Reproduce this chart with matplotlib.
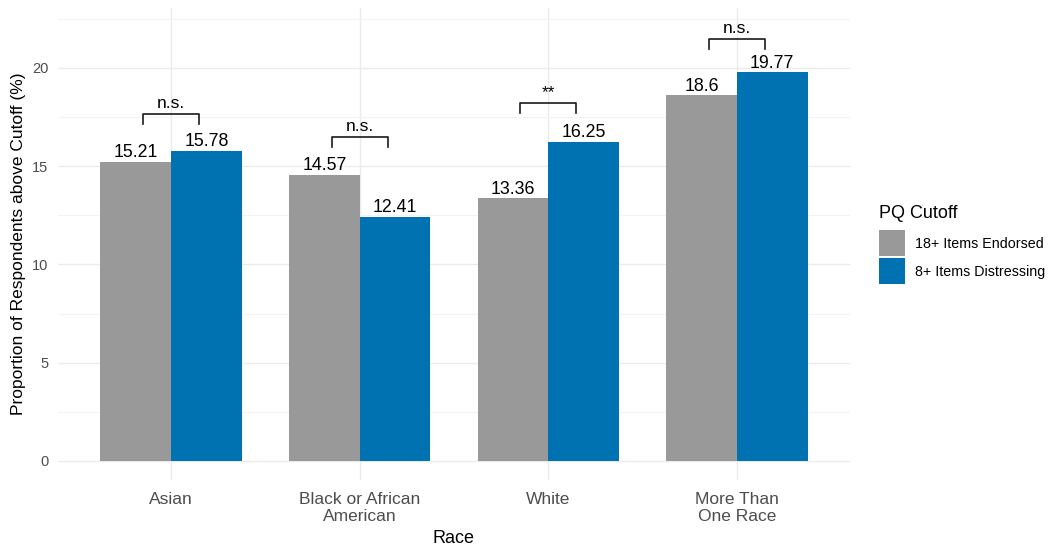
import numpy as np
import matplotlib.pyplot as plt
from matplotlib.patches import Patch

plt.rcParams['font.family'] = ['Liberation Sans', 'DejaVu Sans']

# data
races = ['Asian', 'Black or African\nAmerican', 'White', 'More Than\nOne Race']
endorsed = [15.21, 14.57, 13.36, 18.6]
distressing = [15.78, 12.41, 16.25, 19.77]
sig_labels = ['n.s.', 'n.s.', '**', 'n.s.']
bracket_top = [17.66, 16.49, 18.22, 21.48]
series_names = ['18+ Items Endorsed', '8+ Items Distressing']

GRAY = '#999999'
BLUE = '#0072B2'

fig = plt.figure(figsize=(10.51, 5.53), dpi=100)
ax = fig.add_axes([58 / 1051, 1 - 480 / 553, (850 - 58) / 1051, (480 - 8) / 553])

x = np.arange(1, len(races) + 1)
w = 0.375
ax.bar(x - w / 2, endorsed, width=w, color=GRAY, zorder=2)
ax.bar(x + w / 2, distressing, width=w, color=BLUE, zorder=2)

for xi, a, b in zip(x, endorsed, distressing):
    ax.text(xi - w / 2, a + 0.03, f'{a:g}', ha='center', va='bottom', fontsize=12.8, color='black')
    ax.text(xi + w / 2, b + 0.03, f'{b:g}', ha='center', va='bottom', fontsize=12.8, color='black')

# significance brackets
for xi, top, lab in zip(x, bracket_top, sig_labels):
    x0, x1 = xi - 0.148, xi + 0.148
    ax.plot([x0, x0, x1, x1], [top - 0.5, top, top, top - 0.5], color='#1a1a1a', lw=1.2, zorder=3)
    ax.text(xi, top + 0.15, lab, ha='center', va='bottom', fontsize=12.5, color='black')

ax.set_xlim(0.4, 4.6)
ax.set_ylim(-0.97, 23.05)
ax.set_xticks(x)
ax.set_xticklabels(races, fontsize=12.5, color='#4d4d4d', linespacing=1.15)
ax.set_yticks([0, 5, 10, 15, 20])
ax.set_yticks([2.5, 7.5, 12.5, 17.5, 22.5], minor=True)
ax.tick_params(axis='y', labelsize=10.5, labelcolor='#4d4d4d')
ax.tick_params(which='both', length=0)
ax.tick_params(axis='x', pad=9)
ax.tick_params(axis='y', pad=7)
ax.grid(which='major', color='#ebebeb', lw=1.0, zorder=0)
ax.grid(which='minor', axis='y', color='#f3f3f3', lw=0.8, zorder=0)
ax.set_axisbelow(True)
for s in ax.spines.values():
    s.set_visible(False)

ax.set_xlabel('Race', fontsize=13, labelpad=4)
ax.set_ylabel('Proportion of Respondents above Cutoff (%)', fontsize=12.5, labelpad=4)

handles = [Patch(facecolor=GRAY), Patch(facecolor=BLUE)]
leg = fig.legend(handles, series_names, title='PQ Cutoff', loc='upper left',
                 bbox_to_anchor=(866 / 1051, 1 - 192 / 553), frameon=False,
                 fontsize=10.3, title_fontsize=13, handlelength=1.82, handleheight=2.42,
                 handletextpad=0.7, labelspacing=0.14)
leg._legend_box.align = 'left'
leg._legend_box.sep = 6

fig.savefig('out.png', dpi=100)
